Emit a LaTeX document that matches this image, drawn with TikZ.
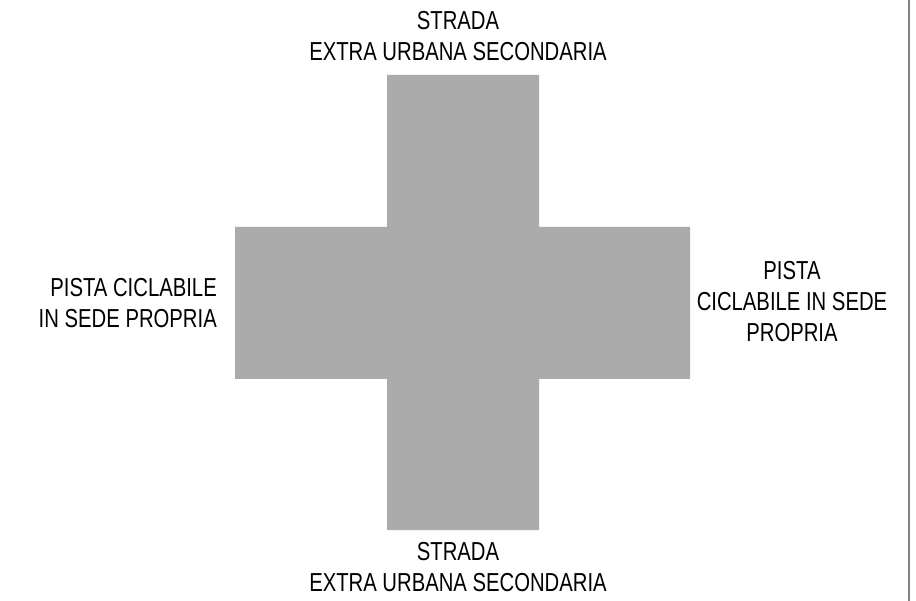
\documentclass[tikz,border=0pt]{standalone}
\usepackage{fontspec}
\setmainfont{Liberation Sans}[FakeStretch=0.78]
\begin{document}
\begin{tikzpicture}[x=1pt,y=-1pt,
  lbl/.style={inner sep=0pt,font=\fontsize{26}{31}\selectfont,text=black},
  road/.style={fill=roadgrey,draw=none},
  frameline/.style={draw=framegrey,line width=2pt}]
\definecolor{roadgrey}{HTML}{ABABAB}
\definecolor{framegrey}{HTML}{808080}
\useasboundingbox (0,0) rectangle (916,601);
% cross
\fill[road] (387,75) -- (539,75) -- (539,227) -- (690,227) -- (690,379)
  -- (539,379) -- (539,530) -- (387,530) -- (387,379) -- (235,379)
  -- (235,227) -- (387,227) -- cycle;
% right frame line
\coordinate (ft) at (909,0);
\coordinate (fb) at (909,601);
\draw[frameline] (ft) -- (fb);
% labels
\node[lbl,align=center] (top) at (458,36) {STRADA\\EXTRA URBANA SECONDARIA};
\node[lbl,align=center] (bottom) at (458,567) {STRADA\\EXTRA URBANA SECONDARIA};
\node[lbl,align=right,anchor=east] (left) at (217,303) {PISTA CICLABILE\\IN SEDE PROPRIA};
\node[lbl,align=center] (right) at (792,302) {PISTA\\CICLABILE IN SEDE\\PROPRIA};
\end{tikzpicture}
\end{document}
